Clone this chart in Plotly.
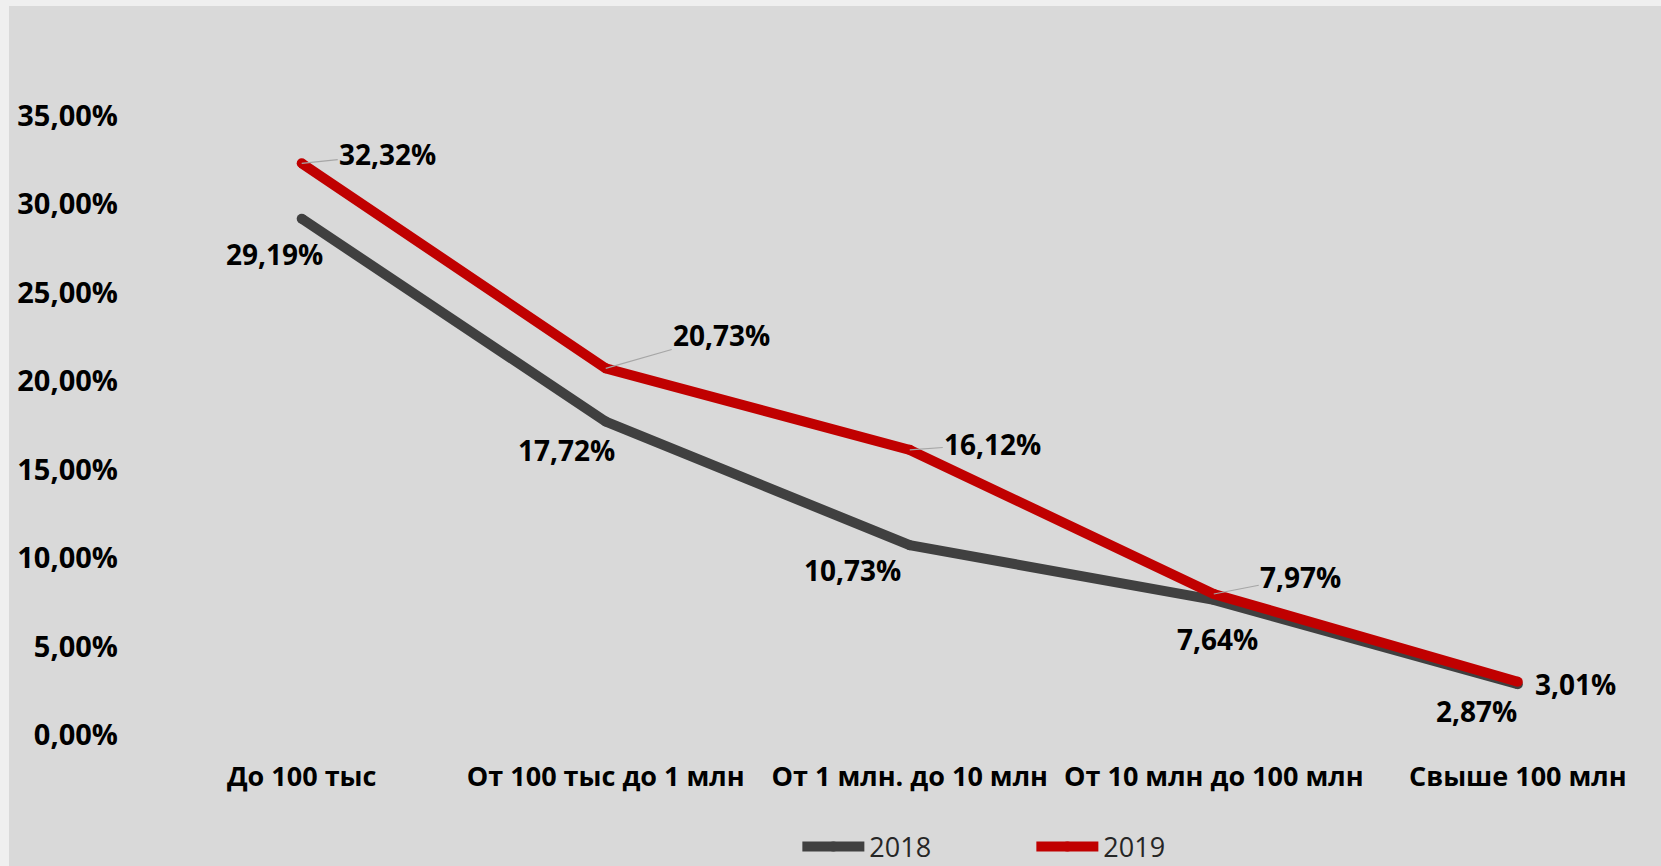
import plotly.graph_objects as go

categories = ["До 100 тыс", "От 100 тыс до 1 млн", "От 1 млн. до 10 млн",
              "От 10 млн до 100 млн", "Свыше 100 млн"]
values_2018 = [29.19, 17.72, 10.73, 7.64, 2.87]
values_2019 = [32.32, 20.73, 16.12, 7.97, 3.01]
y_ticks = [0, 5, 10, 15, 20, 25, 30, 35]

def fmt(v):
    return f"{v:.2f}".replace(".", ",") + "%"

C2018 = "#404040"
C2019 = "#c00000"
FONT = "Open Sans"

fig = go.Figure()
fig.add_trace(go.Scatter(x=list(range(len(categories))), y=values_2018, mode="lines+markers",
                         name="2018", line=dict(color=C2018, width=10),
                         marker=dict(color=C2018, size=10, line=dict(width=0)),
                         cliponaxis=False))
fig.add_trace(go.Scatter(x=list(range(len(categories))), y=values_2019, mode="lines+markers",
                         name="2019", line=dict(color=C2019, width=10),
                         marker=dict(color=C2019, size=10, line=dict(width=0)),
                         cliponaxis=False))

# 2018 labels: below-left of points
shifts_2018 = [(-27, -35), (-39, -28), (-57, -25), (4, -39), (-41, -27)]
for i, v in enumerate(values_2018):
    dx, dy = shifts_2018[i]
    fig.add_annotation(x=i, y=v, text=fmt(v), showarrow=False, xshift=dx, yshift=dy,
                       font=dict(family=FONT, size=28, color="black", weight="bold"))

# 2019 labels: upper-right with leader lines
offs_2019 = [(86, -9), (116, -33), (83, -6), (87, -17), None]
for i, v in enumerate(values_2019):
    o = offs_2019[i]
    if o is None:
        fig.add_annotation(x=i, y=v, text=fmt(v), showarrow=False, xshift=58, yshift=-2,
                           font=dict(family=FONT, size=28, color="black", weight="bold"))
    else:
        fig.add_annotation(x=i, y=v, text=fmt(v), showarrow=True, ax=o[0], ay=o[1],
                           arrowhead=0, arrowwidth=1.2, arrowcolor="#a6a6a6", standoff=0,
                           font=dict(family=FONT, size=28, color="black", weight="bold"))

# grey chart area
fig.add_shape(type="rect", xref="paper", yref="paper", x0=-0.0933, x1=1.01, y0=-0.25, y1=1.08,
              fillcolor="#d9d9d9", line=dict(width=0), layer="below")

fig.update_layout(
    width=1661, height=866,
    margin=dict(l=150, r=0, t=60, b=131, autoexpand=False),
    paper_bgcolor="#efefef",
    plot_bgcolor="#d9d9d9",
    showlegend=True,
    legend=dict(orientation="h", x=0.5833, y=-0.166, xanchor="center", yanchor="middle",
                font=dict(family=FONT, size=27, color="#262626"),
                bgcolor="rgba(0,0,0,0)", entrywidth=157, itemwidth=62),
    xaxis=dict(range=[-0.499, 4.471], tickmode="array",
               tickvals=list(range(len(categories))), ticktext=categories,
               showgrid=False, zeroline=False, showline=False, ticks="",
               ticklabelstandoff=23,
               tickfont=dict(family=FONT, size=27, color="black", weight="bold")),
    yaxis=dict(range=[0, 38.16], tickmode="array", tickvals=y_ticks,
               ticktext=[fmt(t) for t in y_ticks],
               showgrid=False, zeroline=False, showline=False, ticks="",
               ticklabelstandoff=31,
               tickfont=dict(family=FONT, size=29, color="black", weight="bold")),
)

fig.write_html("out.html", config={"displayModeBar": False},
               post_script="document.body.style.margin='0';document.body.style.overflow='hidden';")
